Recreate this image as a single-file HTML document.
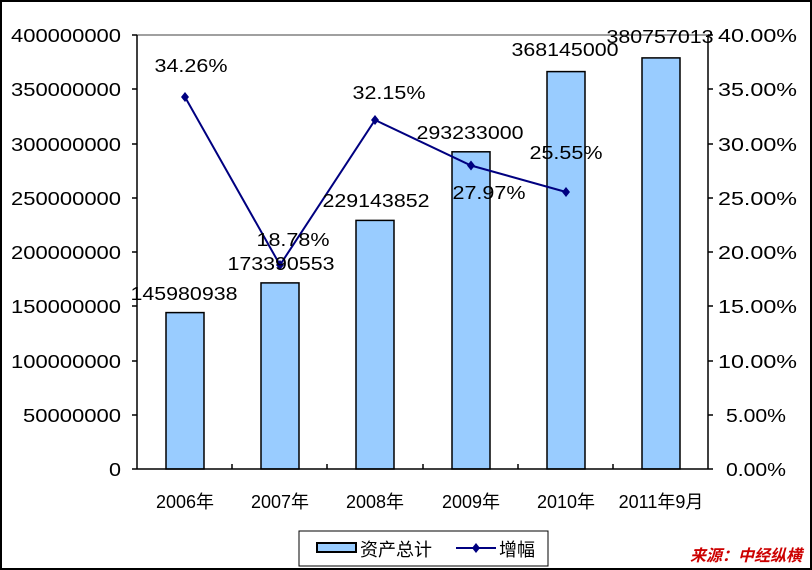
<!DOCTYPE html>
<html><head><meta charset="utf-8"><style>
html,body{margin:0;padding:0;background:#fff}
svg{display:block}
text{font-family:"Liberation Sans","Noto Sans CJK SC",sans-serif;font-size:18px;fill:#000}
</style></head><body>
<svg width="812" height="570" viewBox="0 0 812 570">
<rect x="1" y="1" width="810" height="568" fill="#fff" stroke="#000" stroke-width="2"/>
<line x1="137" y1="35" x2="708" y2="35" stroke="#808080" stroke-width="1.5"/>
<g fill="#99ccff" stroke="#000" stroke-width="1.5">
<rect x="166" y="312.6" width="38" height="156.4"/>
<rect x="261" y="282.9" width="38" height="186.1"/>
<rect x="356" y="220.4" width="38" height="248.6"/>
<rect x="452" y="151.8" width="38" height="317.2"/>
<rect x="547" y="71.6" width="38" height="397.4"/>
<rect x="642" y="57.9" width="38" height="411.1"/>
</g>
<g stroke="#000" stroke-width="1.5">
<line x1="137" y1="35" x2="137" y2="469"/>
<line x1="708" y1="35" x2="708" y2="469"/>
<line x1="137" y1="469" x2="708" y2="469"/>
<line x1="132" y1="35" x2="137" y2="35"/><line x1="132" y1="89" x2="137" y2="89"/><line x1="132" y1="144" x2="137" y2="144"/><line x1="132" y1="198" x2="137" y2="198"/><line x1="132" y1="252" x2="137" y2="252"/><line x1="132" y1="306" x2="137" y2="306"/><line x1="132" y1="361" x2="137" y2="361"/><line x1="132" y1="415" x2="137" y2="415"/><line x1="132" y1="469" x2="137" y2="469"/>
<line x1="708" y1="35" x2="713" y2="35"/><line x1="708" y1="89" x2="713" y2="89"/><line x1="708" y1="144" x2="713" y2="144"/><line x1="708" y1="198" x2="713" y2="198"/><line x1="708" y1="252" x2="713" y2="252"/><line x1="708" y1="306" x2="713" y2="306"/><line x1="708" y1="361" x2="713" y2="361"/><line x1="708" y1="415" x2="713" y2="415"/><line x1="708" y1="469" x2="713" y2="469"/>
<line x1="232" y1="464" x2="232" y2="469"/><line x1="327" y1="464" x2="327" y2="469"/><line x1="423" y1="464" x2="423" y2="469"/><line x1="518" y1="464" x2="518" y2="469"/><line x1="613" y1="464" x2="613" y2="469"/>
</g>
<g text-anchor="end" lengthAdjust="spacingAndGlyphs">
<text x="121" y="42" textLength="110" lengthAdjust="spacingAndGlyphs">400000000</text>
<text x="121" y="96" textLength="110" lengthAdjust="spacingAndGlyphs">350000000</text>
<text x="121" y="151" textLength="110" lengthAdjust="spacingAndGlyphs">300000000</text>
<text x="121" y="205" textLength="110" lengthAdjust="spacingAndGlyphs">250000000</text>
<text x="121" y="259" textLength="110" lengthAdjust="spacingAndGlyphs">200000000</text>
<text x="121" y="313" textLength="110" lengthAdjust="spacingAndGlyphs">150000000</text>
<text x="121" y="368" textLength="110" lengthAdjust="spacingAndGlyphs">100000000</text>
<text x="121" y="422" textLength="98" lengthAdjust="spacingAndGlyphs">50000000</text>
<text x="121" y="476" textLength="12" lengthAdjust="spacingAndGlyphs">0</text>
</g>
<g text-anchor="end">
<text x="797" y="42" textLength="79" lengthAdjust="spacingAndGlyphs">40.00%</text>
<text x="797" y="96" textLength="79" lengthAdjust="spacingAndGlyphs">35.00%</text>
<text x="797" y="151" textLength="79" lengthAdjust="spacingAndGlyphs">30.00%</text>
<text x="797" y="205" textLength="79" lengthAdjust="spacingAndGlyphs">25.00%</text>
<text x="797" y="259" textLength="79" lengthAdjust="spacingAndGlyphs">20.00%</text>
<text x="797" y="313" textLength="79" lengthAdjust="spacingAndGlyphs">15.00%</text>
<text x="797" y="368" textLength="79" lengthAdjust="spacingAndGlyphs">10.00%</text>
<text x="786" y="422" textLength="60" lengthAdjust="spacingAndGlyphs">5.00%</text>
<text x="786" y="476" textLength="60" lengthAdjust="spacingAndGlyphs">0.00%</text>
</g>
<g text-anchor="middle" style="font-family:'Liberation Serif','Noto Serif CJK SC',serif;font-size:19px">
<text x="185" y="508">2006年</text><text x="280" y="508">2007年</text><text x="375" y="508">2008年</text><text x="471" y="508">2009年</text><text x="566" y="508">2010年</text><text x="661" y="508">2011年9月</text>
</g>
<polyline points="185,97 280,265 375,120 471,165.5 566,192" fill="none" stroke="#000080" stroke-width="2"/>
<g fill="#000080">
<path d="M185,92 l4,5 l-4,5 l-4,-5z"/><path d="M280,260 l4,5 l-4,5 l-4,-5z"/><path d="M375,115 l4,5 l-4,5 l-4,-5z"/><path d="M471,160.5 l4,5 l-4,5 l-4,-5z"/><path d="M566,187 l4,5 l-4,5 l-4,-5z"/>
</g>
<g text-anchor="middle">
<text x="184" y="300" textLength="107" lengthAdjust="spacingAndGlyphs">145980938</text>
<text x="281" y="270" textLength="107" lengthAdjust="spacingAndGlyphs">173390553</text>
<text x="376" y="207" textLength="107" lengthAdjust="spacingAndGlyphs">229143852</text>
<text x="470" y="139" textLength="107" lengthAdjust="spacingAndGlyphs">293233000</text>
<text x="565" y="56" textLength="107" lengthAdjust="spacingAndGlyphs">368145000</text>
<text x="660" y="43" textLength="107" lengthAdjust="spacingAndGlyphs">380757013</text>
<text x="191" y="72" textLength="73" lengthAdjust="spacingAndGlyphs">34.26%</text>
<text x="293" y="246" textLength="73" lengthAdjust="spacingAndGlyphs">18.78%</text>
<text x="389" y="99" textLength="73" lengthAdjust="spacingAndGlyphs">32.15%</text>
<text x="489" y="199" textLength="73" lengthAdjust="spacingAndGlyphs">27.97%</text>
<text x="566" y="159" textLength="73" lengthAdjust="spacingAndGlyphs">25.55%</text>
</g>
<rect x="299" y="531" width="249" height="35" fill="#fff" stroke="#000" stroke-width="1"/>
<rect x="317" y="543" width="39" height="9" fill="#99ccff" stroke="#000" stroke-width="2"/>
<text x="360" y="556">资产总计</text>
<line x1="456" y1="548" x2="496" y2="548" stroke="#000080" stroke-width="2"/>
<path d="M476,543 l4,5 l-4,5 l-4,-5z" fill="#000080"/>
<text x="499" y="556">增幅</text>
<text x="690" y="561" style="fill:#cc0000;font-weight:bold;font-style:italic;font-size:16px">来源：中经纵横</text>
</svg>
</body></html>
